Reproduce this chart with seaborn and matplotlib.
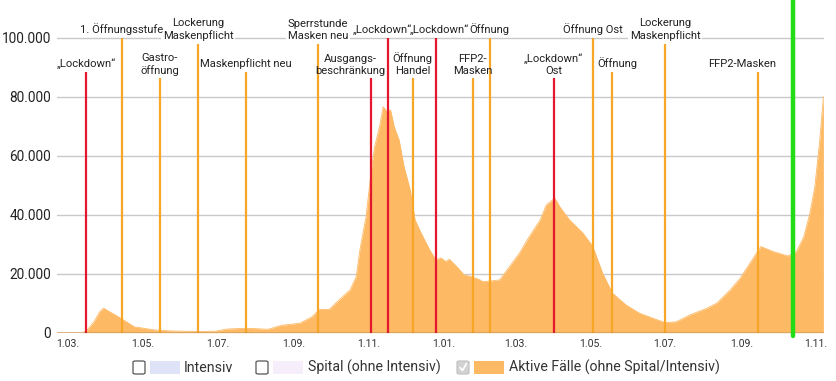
import matplotlib
matplotlib.use("Agg")
import numpy as np
import pandas as pd
import matplotlib.pyplot as plt
import matplotlib.dates as mdates
from matplotlib.patches import Rectangle, FancyBboxPatch
from matplotlib.lines import Line2D
import seaborn as sns

# ---------------------------------------------------------------------
# data
# ---------------------------------------------------------------------
dates = [
    "2020-02-21", "2020-03-12", "2020-03-16", "2020-03-22", "2020-03-27", "2020-03-30",
    "2020-04-13", "2020-04-24", "2020-05-11", "2020-05-24", "2020-06-15", "2020-06-29",
    "2020-07-09", "2020-07-24", "2020-08-02", "2020-08-11", "2020-08-22", "2020-09-06",
    "2020-09-16", "2020-09-22", "2020-09-30", "2020-10-08", "2020-10-17", "2020-10-22",
    "2020-10-25", "2020-10-30", "2020-11-03", "2020-11-06", "2020-11-10", "2020-11-13",
    "2020-11-16", "2020-11-19", "2020-11-22", "2020-11-26", "2020-11-30", "2020-12-05",
    "2020-12-09", "2020-12-14", "2020-12-21", "2020-12-26", "2020-12-30", "2021-01-03",
    "2021-01-06", "2021-01-12", "2021-01-18", "2021-01-24", "2021-01-31", "2021-02-02",
    "2021-02-08", "2021-02-16", "2021-02-24", "2021-03-04", "2021-03-12", "2021-03-21",
    "2021-03-26", "2021-04-02", "2021-04-06", "2021-04-14", "2021-04-25", "2021-05-03",
    "2021-05-11", "2021-05-19", "2021-05-30", "2021-06-10", "2021-06-21", "2021-07-01",
    "2021-07-10", "2021-07-21", "2021-08-04", "2021-08-12", "2021-08-23", "2021-08-31",
    "2021-09-08", "2021-09-15", "2021-09-17", "2021-09-27", "2021-10-09", "2021-10-16",
    "2021-10-22", "2021-10-27", "2021-10-31", "2021-11-04", "2021-11-07",
]
active = [
    0, 0, 600, 3600, 7200, 8300,
    4900, 2000, 900, 600, 400, 500,
    1250, 1500, 1350, 1150, 2500, 3200,
    5400, 7900, 7900, 11100, 14500, 19000,
    28000, 39300, 54000, 63000, 69800, 76600,
    74900, 75500, 69800, 65300, 56300, 48400,
    38200, 33700, 28000, 24600, 25400, 24100,
    24900, 22400, 19600, 19000, 17900, 17300,
    17500, 17900, 22400, 26900, 32500, 38200,
    43300, 45600, 42700, 38200, 33700, 29200,
    20100, 13400, 9400, 6600, 4900, 3400,
    3700, 6000, 8300, 10000, 14500, 18400,
    23500, 28000, 29200, 27500, 26000, 27500,
    32500, 40500, 49500, 65000, 80000,
]

event_dates = [
    "2020-03-16", "2020-04-14", "2020-05-15", "2020-06-15", "2020-07-24",
    "2020-09-21", "2020-11-03", "2020-11-17", "2020-12-07", "2020-12-26",
    "2021-01-25", "2021-02-08", "2021-04-01", "2021-05-03", "2021-05-19",
    "2021-07-01", "2021-09-15",
]
event_labels = [
    "„Lockdown“", "1. Öffnungsstufe", "Gastro-\nöffnung", "Lockerung\nMaskenpflicht",
    "Maskenpflicht neu", "Sperrstunde\nMasken neu", "Ausgangs-\nbeschränkung",
    "„Lockdown“", "Öffnung\nHandel", "„Lockdown“", "FFP2-\nMasken", "Öffnung",
    "„Lockdown“\nOst", "Öffnung Ost", "Öffnung", "Lockerung\nMaskenpflicht",
    "FFP2-Masken",
]
event_lockdown = [
    True, False, False, False, False, False, True, True, False, True,
    False, False, True, False, False, False, False,
]
event_tops = [
    88300, 100000, 86200, 97800, 88300, 97800, 86200, 100000, 86200, 100000,
    86200, 100000, 86200, 100000, 88300, 97800, 88300,
]

today = "2021-10-13"

legend_labels = ["Intensiv", "Spital (ohne Intensiv)", "Aktive Fälle (ohne Spital/Intensiv)"]

# ---------------------------------------------------------------------
# styling
# ---------------------------------------------------------------------
sns.set_theme(style="white")
plt.rcParams["font.family"] = ["Roboto", "DejaVu Sans"]

AREA = "#fdb964"
RED = "#e3172d"
ORANGE = "#f7a627"
GREEN = "#22dd16"
TXT = "#222222"

W, H = 837, 381
fig = plt.figure(figsize=(W / 100, H / 100), dpi=100)
ax = fig.add_axes([57 / W, 1 - 332.7 / H, (824 - 57) / W, 332.7 / H])

df = pd.DataFrame({"date": pd.to_datetime(dates), "active": active})

# area
ax.fill_between(df["date"], 0, df["active"], color=AREA, lw=0, zorder=2)
sns.lineplot(data=df, x="date", y="active", ax=ax, color=AREA, lw=0.6, zorder=2)

# grid + baseline
for v in [20000, 40000, 60000, 80000, 100000]:
    ax.axhline(v, color="#c9c9c9", lw=1, zorder=1)
ax.axhline(0, color="#555555", lw=1, zorder=4)

# event lines + labels
label_dx = {6: -21, 7: -6, 9: 3, 14: 5, 16: -16}  # pixel nudges seen in the original
ev = pd.to_datetime(event_dates)
for i, (d, lab, lock, top) in enumerate(zip(ev, event_labels, event_lockdown, event_tops)):
    col = RED if lock else ORANGE
    ax.vlines(d, 0, top, color=col, lw=1.6, zorder=3)
    kw = dict(xy=(d, top), xytext=(label_dx.get(i, 0) / 1.389, 2),
              textcoords="offset points", ha="center", va="bottom",
              fontsize=8.1, linespacing=1.25, annotation_clip=False)
    if top > 95000:
        # white backing that breaks the 100.000 grid line behind the label
        ax.annotate(lab, color="none", zorder=4.5,
                    bbox=dict(boxstyle="square,pad=0.15", fc="white", ec="none"), **kw)
    ax.annotate(lab, color=TXT, zorder=5, **kw)

# current date marker
ax.vlines(pd.to_datetime(today), -1000, 200000, color=GREEN, lw=3.2,
          zorder=6, capstyle="round", clip_on=False)

# axes
ax.set_xlim(pd.Timestamp("2020-02-21"), pd.Timestamp("2021-11-07 12:00"))
ax.set_ylim(0, 112800)
ax.set_yticks([0, 20000, 40000, 60000, 80000, 100000])
ax.set_yticklabels([f"{v:,.0f}".replace(",", ".") for v in ax.get_yticks()])
ax.xaxis.set_major_locator(mdates.MonthLocator(bymonth=[1, 3, 5, 7, 9, 11]))
ax.xaxis.set_major_formatter(mdates.DateFormatter("%-d.%m."))
ax.tick_params(axis="y", length=0, pad=4.3, labelsize=9.8, labelcolor=TXT)
ax.tick_params(axis="x", length=0, pad=4.5, labelsize=7.6, labelcolor="#333333")
ax.set_xlabel("")
ax.set_ylabel("")
for s in ax.spines.values():
    s.set_visible(False)
ax.set_facecolor("white")


# legend (html style checkboxes under the chart)
def fx(x):
    return x / W


def fy(y):
    return 1 - y / H


legend_x = [(133, 150, 184), (256, 273, 308), (457, 474, 509)]
legend_patch = ["#dfe3f7", "#f6eefa", AREA]
legend_checked = [False, False, True]
for (cx, px, tx), lab, pc, chk in zip(legend_x, legend_labels, legend_patch, legend_checked):
    box = FancyBboxPatch((fx(cx), fy(374)), 12 / W, 13 / H,
                         boxstyle="round,pad=0,rounding_size=0.003",
                         transform=fig.transFigure,
                         fc="#d2d2d2" if chk else "white",
                         ec="#c4c4c4" if chk else "#555555", lw=0.9)
    fig.add_artist(box)
    if chk:
        fig.add_artist(Line2D([fx(cx + 3), fx(cx + 5.5), fx(cx + 9.5)],
                              [fy(367.5), fy(370.5), fy(363.5)],
                              transform=fig.transFigure, color="white", lw=1.2))
    fig.add_artist(Rectangle((fx(px), fy(374)), 30 / W, 13 / H,
                             transform=fig.transFigure, fc=pc, ec="none"))
    fig.text(fx(tx), fy(367.5), lab, ha="left", va="center",
             fontsize=10.2, color="#333333")

fig.savefig("out.png", dpi=100)
